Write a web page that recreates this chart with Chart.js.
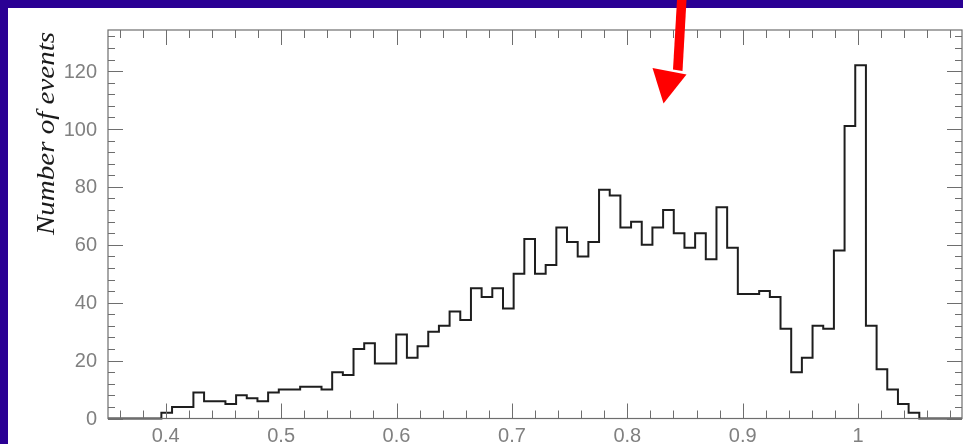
<!DOCTYPE html>
<html>
<head>
<meta charset="utf-8">
<script src="https://cdn.jsdelivr.net/npm/chart.js@4/dist/chart.umd.min.js"></script>
<style>
  html, body { margin: 0; padding: 0; overflow: hidden; background: #2a0094; }
  canvas { display: block; }
</style>
</head>
<body>
<canvas id="histChart" width="963" height="444"></canvas>
<script>
// histogram binning: 80 bins between xLow and xHigh
const xLow = 0.35;
const xHigh = 1.09;
const nBins = 80;
const yMax = 134.2;

// counts per bin
const counts = [
    0, 0, 0, 0, 0, 2, 4, 4, 9, 6,
    6, 5, 8, 7, 6, 9, 10, 10, 11, 11,
    10, 16, 15, 24, 26, 19, 19, 29, 21, 25,
    30, 32, 37, 34, 45, 42, 45, 38, 50, 62,
    50, 53, 66, 61, 56, 61, 79, 77, 66, 68,
    60, 66, 72, 64, 59, 64, 55, 73, 59, 43,
    43, 44, 42, 31, 16, 21, 32, 31, 58, 101,
    122, 32, 17, 10, 5, 2, 0, 0, 0, 0
];

const yTitle = "Number of events";

const binWidth = (xHigh - xLow) / nBins;
const points = counts.map((c, i) => ({ x: xLow + i * binWidth, y: c }));
points.push({ x: xHigh, y: counts[counts.length - 1] });

const tickFont = "20px 'Liberation Sans', Arial, sans-serif";
const tickColor = '#808080';
const fmt = v => String(Number(v.toFixed(2)));

const pagePlugin = {
    id: 'page',
    beforeDraw(chart) {
        const c = chart.ctx;
        c.save();
        c.fillStyle = '#2a0094';
        c.fillRect(0, 0, chart.width, chart.height);
        c.fillStyle = '#ffffff';
        c.fillRect(8, 8, chart.width - 8, chart.height - 8);
        c.restore();
    },
    afterDraw(chart) {
        const c = chart.ctx;
        const a = chart.chartArea;
        const xs = chart.scales.x;
        const ys = chart.scales.y;
        c.save();
        // frame
        c.strokeStyle = '#6e6e6e';
        c.lineWidth = 1.2;
        c.strokeRect(a.left, a.top, a.right - a.left, a.bottom - a.top);

        // inward ticks on all four sides
        c.lineWidth = 1;
        c.beginPath();
        for (let i = 18; i <= 54; i++) {
            const px = Math.round(xs.getPixelForValue(i * 0.02)) + 0.5;
            const len = i % 5 === 0 ? 15 : 8;
            c.moveTo(px, a.bottom); c.lineTo(px, a.bottom - len);
            c.moveTo(px, a.top); c.lineTo(px, a.top + len);
        }
        for (let v = 0; v <= 132; v += 4) {
            const py = Math.round(ys.getPixelForValue(v)) + 0.5;
            const len = v % 20 === 0 ? 15 : 7;
            c.moveTo(a.left, py); c.lineTo(a.left + len, py);
            c.moveTo(a.right, py); c.lineTo(a.right - len, py);
        }
        c.stroke();

        // tick labels from the scales' own ticks
        c.font = tickFont;
        c.fillStyle = tickColor;
        c.textAlign = 'right';
        c.textBaseline = 'middle';
        ys.ticks.forEach(t => c.fillText(fmt(t.value), a.left - 11, ys.getPixelForValue(t.value) + 1));
        c.textAlign = 'center';
        c.textBaseline = 'top';
        xs.ticks.forEach(t => c.fillText(fmt(t.value), xs.getPixelForValue(t.value), a.bottom + 8));

        // y axis title, italic serif, placed at the top end
        c.translate(54, 235);
        c.rotate(-Math.PI / 2);
        c.font = "italic 25px 'Liberation Serif', 'DejaVu Serif', serif";
        const w = c.measureText(yTitle).width;
        c.scale(203 / w, 1);
        c.fillStyle = '#1a1a1a';
        c.textAlign = 'left';
        c.textBaseline = 'alphabetic';
        c.fillText(yTitle, 0, 0);
        c.restore();

        // red arrow pointing at the plot
        c.save();
        c.fillStyle = '#ff0000';
        c.beginPath();
        c.moveTo(677, 0);
        c.lineTo(686.5, 0);
        c.lineTo(682.5, 71);
        c.lineTo(673, 69.5);
        c.closePath();
        c.fill();
        c.beginPath();
        c.moveTo(652.5, 68);
        c.lineTo(686.5, 74.5);
        c.lineTo(663.5, 103.5);
        c.closePath();
        c.fill();
        c.restore();
    }
};

const histChart = new Chart(document.getElementById('histChart').getContext('2d'), {
    type: 'line',
    data: {
        datasets: [{
            data: points,
            stepped: true,
            borderColor: '#1e1e1e',
            borderWidth: 2,
            pointRadius: 0,
            fill: false,
            clip: 6
        }]
    },
    options: {
        responsive: false,
        animation: false,
        layout: { padding: { top: 30, right: 1, left: 0, bottom: 0 } },
        plugins: {
            legend: { display: false },
            tooltip: { enabled: false }
        },
        scales: {
            x: {
                type: 'linear',
                min: xLow,
                max: xHigh,
                grid: { display: false },
                border: { display: false },
                ticks: { display: false, stepSize: 0.1, includeBounds: false },
                afterFit: s => { s.height = 25.5; }
            },
            y: {
                type: 'linear',
                min: 0,
                max: yMax,
                grid: { display: false },
                border: { display: false },
                ticks: { display: false, stepSize: 20, includeBounds: false },
                afterFit: s => { s.width = 108; }
            }
        }
    },
    plugins: [pagePlugin]
});
</script>
</body>
</html>
